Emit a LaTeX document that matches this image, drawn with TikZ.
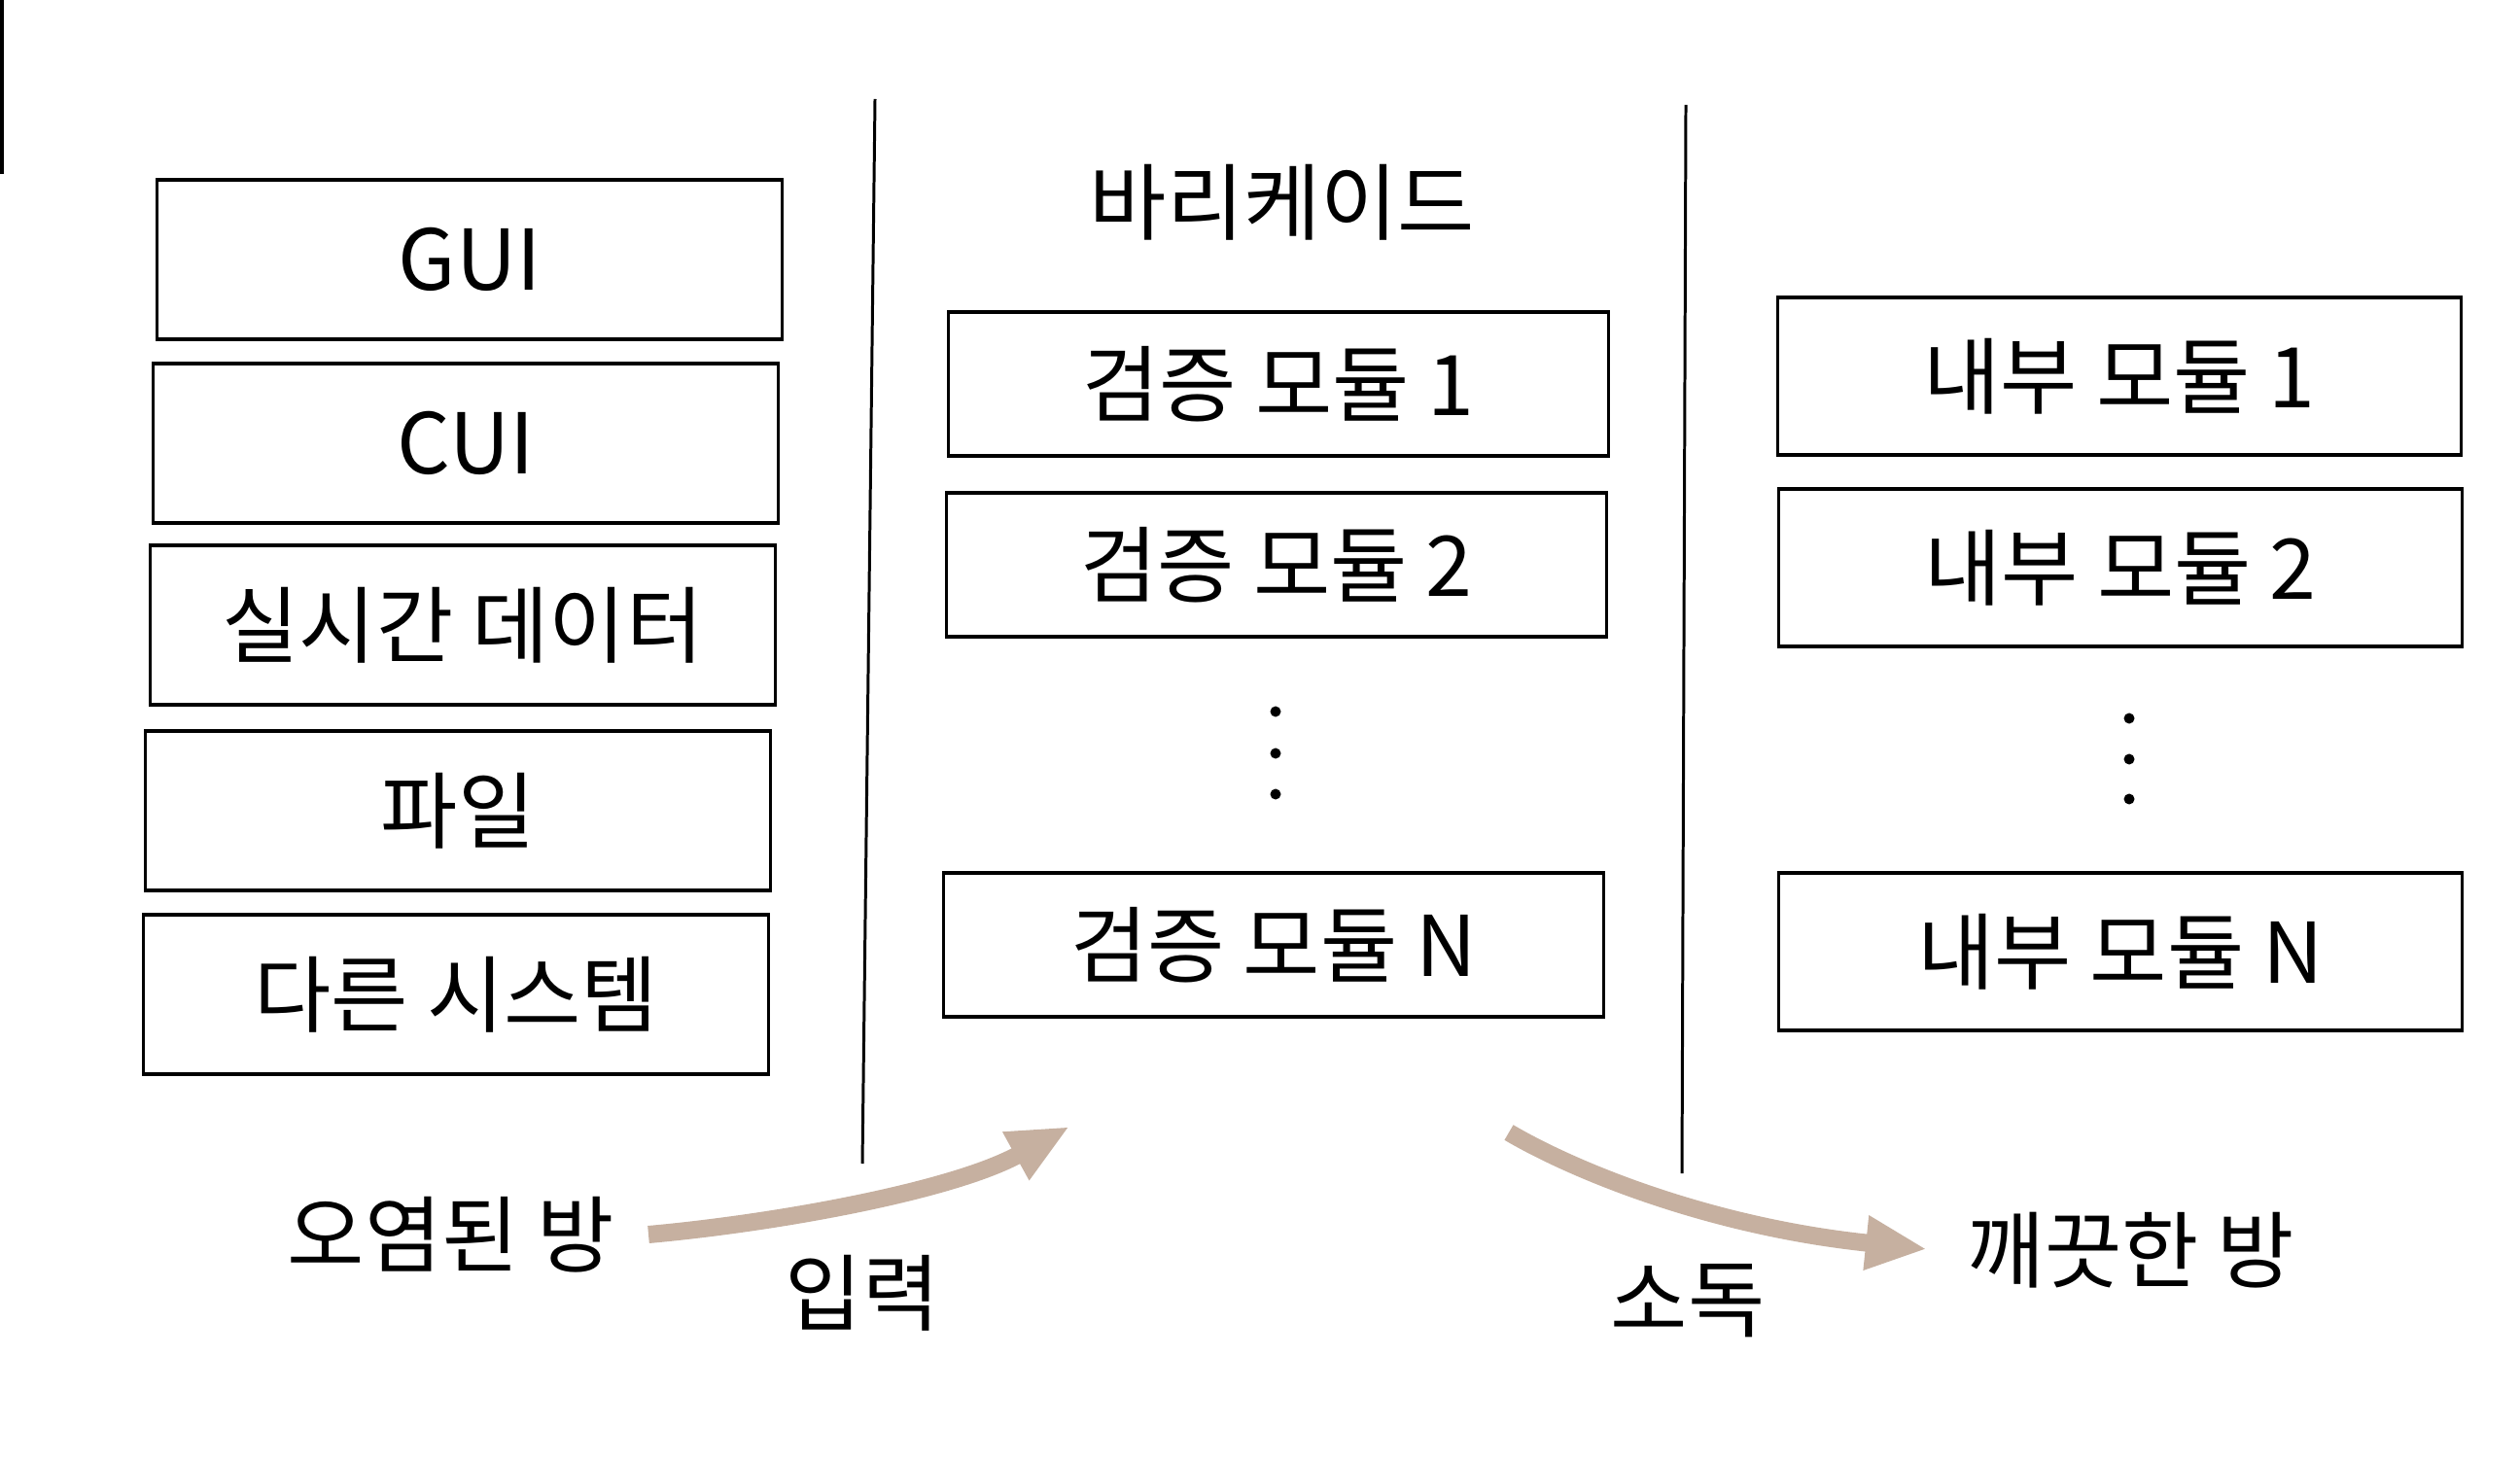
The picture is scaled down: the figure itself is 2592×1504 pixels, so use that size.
\documentclass[tikz,border=0pt]{standalone}
\usepackage{fontspec}
\setmainfont{Noto Sans CJK KR}
\usetikzlibrary{arrows.meta}
\definecolor{arrowtan}{RGB}{198,176,160}
\begin{document}
\begin{tikzpicture}[x=0.01cm,y=-0.01cm,
  lbl/.style={inner sep=0pt, font=\fontsize{24.5}{29}\selectfont},
  box/.style={lbl, draw=black, line width=0.9pt},
  lbox/.style={box, minimum width=6.43cm, minimum height=1.64cm},
  vbox/.style={box, minimum width=6.78cm, minimum height=1.48cm},
  ibox/.style={box, minimum width=7.02cm, minimum height=1.62cm},
  dotnode/.style={circle, fill=black, inner sep=0pt, minimum size=0.11cm},
  sepline/.style={draw=black, line width=0.85pt},
  flow/.style={draw=arrowtan, line width=0.18cm, -{Triangle[length=0.63cm,width=0.52cm]}}
]
\useasboundingbox (0,0) rectangle (2592,1504);
\fill[white] (0,0) rectangle (2592,1504);
% scan edge mark
\fill[black] (0,0) rectangle (4,179);

% left column: sources
\node[lbox] (gui)  at (483,267)  {GUI};
\node[lbox] (cui)  at (479,456)  {CUI};
\node[lbox] (rt)   at (476,643)  {실시간 데이터};
\node[lbox] (file) at (471,834)  {파일};
\node[lbox] (oth)  at (469,1023) {다른 시스템};

% separators
\coordinate (s1t) at (900,102);
\coordinate (s1b) at (887,1197);
\coordinate (s2t) at (1734,108);
\coordinate (s2b) at (1730,1207);
\draw[sepline] (s1t) -- (s1b);
\draw[sepline] (s2t) -- (s2b);

% barricade column
\node[lbl] (bar) at (1319,208) {바리케이드};
\node[vbox] (v1) at (1315,395) {검증 모듈 1};
\node[vbox] (v2) at (1313,581) {검증 모듈 2};
\node[dotnode] (vd1) at (1312,732) {};
\node[dotnode] (vd2) at (1312,775) {};
\node[dotnode] (vd3) at (1312,817) {};
\node[vbox] (vn) at (1310,972) {검증 모듈 N};

% internal column
\node[ibox] (i1) at (2180,387) {내부 모듈 1};
\node[ibox] (i2) at (2181,584) {내부 모듈 2};
\node[dotnode] (id1) at (2190,739) {};
\node[dotnode] (id2) at (2190,781) {};
\node[dotnode] (id3) at (2190,822) {};
\node[ibox] (in) at (2181,979) {내부 모듈 N};

% bottom labels
\node[lbl] (dirty) at (464,1270) {오염된 방};
\node[lbl] (inp)   at (887,1330) {입력};
\node[lbl] (dis)   at (1736,1338) {소독};
\node[lbl] (clean) at (2192,1286) {깨끗한 방};

% arrows
\coordinate (a1s) at (667,1270);
\coordinate (a1e) at (1100,1159);
\coordinate (a2s) at (1552,1165);
\coordinate (a2e) at (1982,1285);
\draw[flow] (a1s) .. controls (800,1258) and (980,1225) .. (a1e);
\draw[flow] (a2s) .. controls (1620,1205) and (1760,1262) .. (a2e);
\end{tikzpicture}
\end{document}
